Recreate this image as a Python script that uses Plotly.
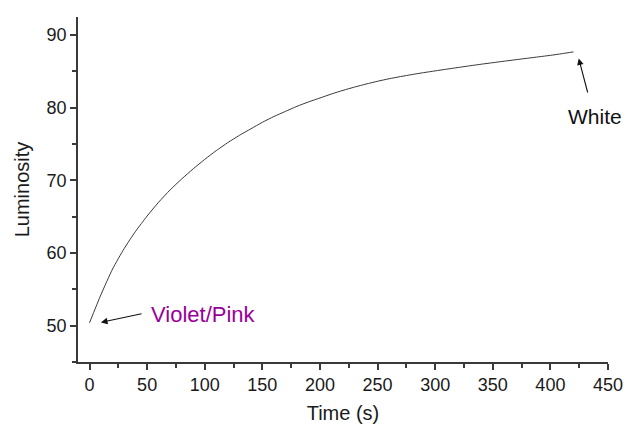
import plotly.graph_objects as go

time_s = [0, 10, 20, 30, 40, 50, 60, 70, 80, 90, 100, 110, 120, 130, 140, 150,
          160, 170, 180, 190, 200, 210, 220, 230, 240, 250, 260, 270, 280, 290,
          300, 310, 320, 330, 340, 350, 360, 370, 380, 390, 400, 410, 420]
luminosity = [50.4, 54.3, 57.8, 60.6, 63.0, 65.1, 67.0, 68.7, 70.2, 71.6, 72.9,
              74.1, 75.2, 76.2, 77.1, 78.0, 78.8, 79.5, 80.2, 80.8, 81.35, 81.9,
              82.4, 82.85, 83.27, 83.65, 84.0, 84.3, 84.58, 84.84, 85.08, 85.32, 85.55,
              85.78, 86.0, 86.21, 86.42, 86.62, 86.82, 87.02, 87.22, 87.45, 87.7]

x_ticks = [0, 50, 100, 150, 200, 250, 300, 350, 400, 450]
y_ticks = [50, 60, 70, 80, 90]

start_label = "Violet/Pink"
end_label = "White"

FONT = "Arial, Liberation Sans, sans-serif"

fig = go.Figure()
fig.add_trace(go.Scatter(x=time_s, y=luminosity, mode="lines",
                         line=dict(color="#3a3a3a", width=1, shape="spline", smoothing=0.6),
                         showlegend=False))

axis_common = dict(showline=True, linecolor="#3a3a3a", linewidth=1.7,
                   ticks="outside", ticklen=6, tickwidth=1.5, tickcolor="#3a3a3a",
                   showgrid=False, zeroline=False, mirror=False, automargin=False,
                   tickfont=dict(family=FONT, size=18, color="#1a1a1a"))

fig.update_xaxes(range=[-10, 450], tickvals=x_ticks,
                 title=dict(text="Time (s)", font=dict(family=FONT, size=20, color="#1a1a1a"), standoff=14),
                 minor=dict(dtick=25, tick0=0, ticks="outside", ticklen=4, tickwidth=1.5, tickcolor="#3a3a3a", showgrid=False),
                 **axis_common)
fig.update_yaxes(range=[45, 92.5], tickvals=y_ticks,
                 title=dict(text="Luminosity", font=dict(family=FONT, size=20, color="#1a1a1a"), standoff=12),
                 minor=dict(dtick=5, tick0=0, ticks="outside", ticklen=4, tickwidth=1.5, tickcolor="#3a3a3a", showgrid=False),
                 **axis_common)

# arrows
fig.add_annotation(x=9.9, y=50.45, ax=46.5, ay=51.7, xref="x", yref="y",
                   axref="x", ayref="y", text="", showarrow=True,
                   arrowhead=2, arrowsize=1.2, arrowwidth=1.1, arrowcolor="#111111")
fig.add_annotation(x=424.6, y=86.8, ax=432.7, ay=81.9, xref="x", yref="y",
                   axref="x", ayref="y", text="", showarrow=True,
                   arrowhead=2, arrowsize=1.2, arrowwidth=1.1, arrowcolor="#111111")
# labels
fig.add_annotation(x=52, y=51.6, xref="x", yref="y", text=start_label,
                   showarrow=False, xanchor="left", yanchor="middle",
                   font=dict(family=FONT, size=22, color="#990099"))
fig.add_annotation(x=438.3, y=78.8, xref="x", yref="y", text=end_label,
                   showarrow=False, xanchor="center", yanchor="middle",
                   font=dict(family=FONT, size=21, color="#111111"))

fig.update_layout(width=627, height=424, margin=dict(l=78, r=19, t=17, b=62),
                  plot_bgcolor="white", paper_bgcolor="white",
                  font=dict(family=FONT))

fig.write_html("out.html")
